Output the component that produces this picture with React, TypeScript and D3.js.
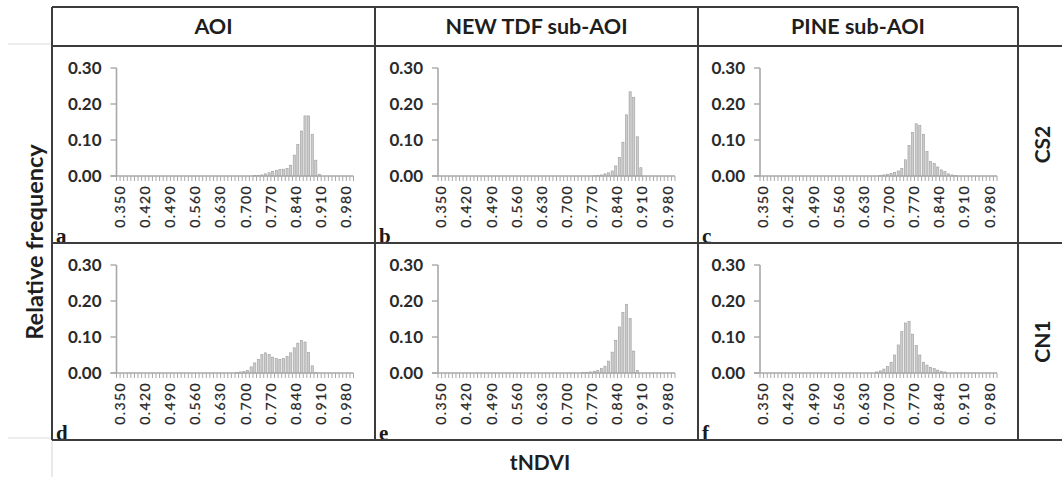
import React from "react";
import * as d3 from "d3";

const W = 1062;
const H = 477;

// tNDVI bins 0.350 .. 1.000 (step 0.010)
const categories: string[] = d3.range(66).map((i) => (0.35 + i * 0.01).toFixed(3));
const tickLabels = ["0.350", "0.420", "0.490", "0.560", "0.630", "0.700", "0.770", "0.840", "0.910", "0.980"];
const yTicks = [0, 0.1, 0.2, 0.3];

const colTitles = ["AOI", "NEW TDF sub-AOI", "PINE sub-AOI"];
const rowTitles = ["CS2", "CN1"];
const panelLetters = [["a", "b", "c"], ["d", "e", "f"]];

const aoiCS2 = [
  0, 0, 0, 0, 0, 0, 0, 0, 0, 0,
  0, 0, 0, 0, 0, 0, 0, 0, 0, 0,
  0, 0, 0, 0, 0, 0, 0, 0, 0, 0,
  0, 0, 0, 0, 0, 0, 0, 0, 0.001, 0.002,
  0.003, 0.006, 0.009, 0.013, 0.016, 0.018, 0.019, 0.021, 0.030, 0.058,
  0.088, 0.125, 0.167, 0.167, 0.116, 0.044, 0.005, 0, 0, 0,
  0, 0, 0, 0, 0, 0,
];
const tdfCS2 = [
  0, 0, 0, 0, 0, 0, 0, 0, 0, 0,
  0, 0, 0, 0, 0, 0, 0, 0, 0, 0,
  0, 0, 0, 0, 0, 0, 0, 0, 0, 0,
  0, 0, 0, 0, 0, 0, 0, 0, 0, 0,
  0, 0, 0, 0.0005, 0.001, 0.003, 0.006, 0.009, 0.014, 0.028,
  0.051, 0.094, 0.170, 0.234, 0.218, 0.109, 0.023, 0, 0, 0,
  0, 0, 0, 0, 0, 0,
];
const pineCS2 = [
  0, 0, 0, 0, 0, 0, 0, 0, 0, 0,
  0, 0, 0, 0, 0, 0, 0, 0, 0, 0,
  0, 0, 0, 0, 0, 0, 0, 0, 0, 0,
  0, 0, 0, 0.002, 0.003, 0.005, 0.007, 0.010, 0.014, 0.021,
  0.045, 0.085, 0.121, 0.145, 0.140, 0.116, 0.068, 0.040, 0.035, 0.025,
  0.017, 0.012, 0.006, 0.003, 0.001, 0, 0, 0, 0, 0,
  0, 0, 0, 0, 0, 0,
];
const aoiCN1 = [
  0, 0, 0, 0, 0, 0, 0, 0, 0, 0,
  0, 0, 0, 0, 0, 0, 0, 0, 0, 0,
  0, 0, 0, 0, 0, 0, 0, 0, 0, 0,
  0, 0, 0, 0.002, 0.003, 0.004, 0.007, 0.017, 0.028, 0.038,
  0.051, 0.056, 0.051, 0.044, 0.040, 0.038, 0.040, 0.046, 0.056, 0.070,
  0.083, 0.090, 0.086, 0.057, 0.020, 0.002, 0, 0, 0, 0,
  0, 0, 0, 0, 0, 0,
];
const tdfCN1 = [
  0, 0, 0, 0, 0, 0, 0, 0, 0, 0,
  0, 0, 0, 0, 0, 0, 0, 0, 0, 0,
  0, 0, 0, 0, 0, 0, 0, 0, 0, 0,
  0, 0, 0, 0, 0, 0, 0, 0, 0, 0,
  0.001, 0.002, 0.003, 0.005, 0.007, 0.012, 0.019, 0.033, 0.058, 0.091,
  0.128, 0.168, 0.191, 0.151, 0.061, 0.007, 0, 0, 0, 0,
  0, 0, 0, 0, 0, 0,
];
const pineCN1 = [
  0, 0, 0, 0, 0, 0, 0, 0, 0, 0,
  0, 0, 0, 0, 0, 0, 0, 0, 0, 0,
  0, 0, 0, 0, 0, 0, 0, 0, 0, 0,
  0, 0, 0.003, 0.006, 0.011, 0.018, 0.030, 0.050, 0.078, 0.115,
  0.139, 0.143, 0.108, 0.076, 0.050, 0.030, 0.022, 0.016, 0.012, 0.008,
  0.005, 0.003, 0, 0, 0, 0, 0, 0, 0, 0,
  0, 0, 0, 0, 0, 0,
];
const seriesGrid = [
  [aoiCS2, tdfCS2, pineCS2],
  [aoiCN1, tdfCN1, pineCN1],
];

// layout
const colX = [52, 375, 698, 1018];
const topY = 7;
const rowY = [46, 243, 440];
const axisOffset = [64.5, 63, 62];
const plotW = 237;
const FONT = "Lato, 'Open Sans', sans-serif";
const LINE = "#3c3c3c";
const AX = "#a8a8a8";

function Panel({ r, c }: { r: number; c: number }) {
  const left = colX[c] + axisOffset[c];
  const top = rowY[r];
  const x = d3.scaleBand<string>().domain(categories).range([left, left + plotW]).paddingInner(0.4).paddingOuter(0.2);
  const xb = d3.scaleBand<string>().domain(categories).range([left, left + plotW]);
  const y = d3.scaleLinear().domain([0, 0.3]).range([top + 130, top + 22]);
  const data = seriesGrid[r][c];
  const y0 = y(0);
  return (
    <g>
      {/* bars */}
      {categories.map((cat, i) =>
        data[i] > 0 ? (
          <rect
            key={cat}
            x={x(cat)}
            y={y(data[i])}
            width={x.bandwidth()}
            height={y0 - y(data[i])}
            fill="#cdcdcd"
            stroke="#9c9c9c"
            strokeWidth={0.6}
          />
        ) : null
      )}
      {/* x ticks */}
      {categories.map((cat) => (
        <line key={"t" + cat} x1={xb(cat)} x2={xb(cat)} y1={y0} y2={y0 + 5} stroke={AX} strokeWidth={1} />
      ))}
      <line x1={left + plotW} x2={left + plotW} y1={y0} y2={y0 + 5} stroke={AX} strokeWidth={1} />
      {/* axes */}
      <line x1={left - 6} x2={left + plotW} y1={y0} y2={y0} stroke={AX} strokeWidth={1.6} />
      <line x1={left} x2={left} y1={y(0.3)} y2={y0} stroke={AX} strokeWidth={1.6} />
      {yTicks.map((t) => (
        <g key={"y" + t}>
          <line x1={left - 6} x2={left} y1={y(t)} y2={y(t)} stroke={AX} strokeWidth={1.4} />
          <text
            x={left - 15}
            y={y(t)}
            dy="0.36em"
            textAnchor="end"
            fontFamily={FONT}
            fontWeight="bold"
            fontSize={17}
            fill="#2a2a2a"
          >
            {t.toFixed(2)}
          </text>
        </g>
      ))}
      {tickLabels.map((lab) => {
        const cx = (xb(lab) as number) + xb.bandwidth() / 2 + 1.5;
        const ty = y0 + 9;
        return (
          <text
            key={"l" + lab}
            transform={`translate(${cx},${ty}) rotate(-90)`}
            dy="0.36em"
            textAnchor="end"
            fontFamily={FONT}
            fontSize={14}
            letterSpacing={1.4}
            stroke="#262626"
            strokeWidth={0.25}
            fill="#262626"
          >
            {lab}
          </text>
        );
      })}
    </g>
  );
}

export default function App() {
  return (
    <svg
      width={W}
      height={H}
      viewBox={`0 0 ${W} ${H}`}
      style={{ position: "absolute", left: 0, top: 0, background: "#fff" }}
    >
      <rect x={0} y={0} width={W} height={H} fill="#fff" />
      {/* panel letters (under the grid lines) */}
      {panelLetters.map((row, r) =>
        row.map((l, c) => (
          <text
            key={l}
            x={colX[c] + 4}
            y={rowY[r + 1] - 0.5}
            fontFamily="'Liberation Serif', 'DejaVu Serif', serif"
            fontWeight="bold"
            fontSize={21}
            fill="#1a1a1a"
          >
            {l}
          </text>
        ))
      )}
      {/* light outer guides */}
      <line x1={8} x2={52} y1={44} y2={44} stroke="#dcdcdc" strokeWidth={1.2} />
      <line x1={8} x2={52} y1={438} y2={438} stroke="#dcdcdc" strokeWidth={1.2} />
      <line x1={52} x2={52} y1={440} y2={H} stroke="#dcdcdc" strokeWidth={1.2} />
      {/* table grid */}
      <line x1={colX[0]} x2={colX[3]} y1={topY} y2={topY} stroke={LINE} strokeWidth={2} />
      {rowY.map((yy) => (
        <line key={"h" + yy} x1={colX[0]} x2={W} y1={yy} y2={yy} stroke={LINE} strokeWidth={2} />
      ))}
      {colX.map((xx) => (
        <line key={"v" + xx} x1={xx} x2={xx} y1={topY} y2={rowY[2]} stroke={LINE} strokeWidth={2} />
      ))}
      {colTitles.map((t, i) => (
        <text
          key={t}
          x={(colX[i] + colX[i + 1]) / 2}
          y={34}
          textAnchor="middle"
          fontFamily={FONT}
          fontWeight="bold"
          fontSize={21.5}
          fill="#1e1e1e"
        >
          {t}
        </text>
      ))}
      {rowTitles.map((t, i) => (
        <text
          key={t}
          transform={`translate(1042,${(rowY[i] + rowY[i + 1]) / 2}) rotate(-90)`}
          dy="0.36em"
          textAnchor="middle"
          fontFamily={FONT}
          fontWeight="bold"
          fontSize={21}
          fill="#1e1e1e"
        >
          {t}
        </text>
      ))}
      <text
        transform={`translate(35,242) rotate(-90)`}
        dy="0.36em"
        textAnchor="middle"
        fontFamily={FONT}
        fontWeight="bold"
        fontSize={23.5}
        fill="#1e1e1e"
      >
        Relative frequency
      </text>
      <text x={540} y={470} textAnchor="middle" fontFamily={FONT} fontWeight="bold" fontSize={21} fill="#1e1e1e">
        tNDVI
      </text>
      {[0, 1].map((r) => [0, 1, 2].map((c) => <Panel key={`${r}-${c}`} r={r} c={c} />))}
    </svg>
  );
}
